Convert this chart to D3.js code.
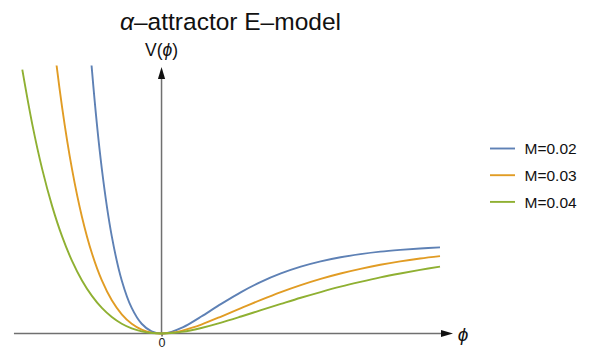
<!DOCTYPE html>
<html>
<head>
<meta charset="utf-8">
<script src="https://cdn.jsdelivr.net/npm/d3@7"></script>
<style>
  html, body { margin: 0; padding: 0; background: #fff; }
  svg { display: block; font-family: "Liberation Sans", Arial, sans-serif; }
</style>
</head>
<body>
<svg id="chart" width="601" height="349"></svg>
<script>
// ---- data ----
const title = "attractor E";
const seriesNames = ["M=0.02", "M=0.03", "M=0.04"];
const colors = ["#5E81B5", "#E19C24", "#8FB032"];
const xTickValues = [0];

const phiBlue   = [-4, -3.5, -3, -2.5, -2, -1.5, -1, -0.5, 0, 0.5, 1, 1.5, 2, 3, 4, 5, 6, 7, 8, 9, 10, 11, 12, 13, 14];
const vBlue     = [4.561, 2.953, 1.840, 1.087, 0.594, 0.286, 0.109, 0.024, 0, 0.018, 0.062, 0.122, 0.190, 0.331, 0.464, 0.578, 0.672, 0.748, 0.807, 0.853, 0.888, 0.916, 0.936, 0.952, 0.964];

const phiOrange = [-6, -5.5, -5, -4.5, -4, -3.5, -3, -2.5, -2, -1.5, -1, -0.5, 0, 0.5, 1, 1.5, 2, 3, 4, 5, 6, 7, 8, 9, 10, 11, 12, 13, 14];
const vOrange   = [4.561, 3.426, 2.535, 1.840, 1.305, 0.898, 0.594, 0.372, 0.215, 0.109, 0.044, 0.010, 0, 0.008, 0.030, 0.062, 0.100, 0.190, 0.284, 0.377, 0.464, 0.542, 0.612, 0.672, 0.724, 0.769, 0.807, 0.839, 0.866];

const phiGreen  = [-7, -6.5, -6, -5.5, -5, -4.5, -4, -3.5, -3, -2.5, -2, -1.5, -1, -0.5, 0, 0.5, 1, 1.5, 2, 3, 4, 5, 6, 7, 8, 9, 10, 11, 12, 13, 14];
const vGreen    = [2.953, 2.344, 1.840, 1.426, 1.087, 0.813, 0.594, 0.421, 0.286, 0.184, 0.109, 0.057, 0.024, 0.005, 0, 0.005, 0.018, 0.037, 0.062, 0.122, 0.190, 0.261, 0.331, 0.400, 0.464, 0.524, 0.578, 0.628, 0.672, 0.712, 0.748];

const series = [
  { name: seriesNames[0], color: colors[0], pts: phiBlue.map((p, i) => [p, vBlue[i]]) },
  { name: seriesNames[1], color: colors[1], pts: phiOrange.map((p, i) => [p, vOrange[i]]) },
  { name: seriesNames[2], color: colors[2], pts: phiGreen.map((p, i) => [p, vGreen[i]]) }
];

// ---- scales ----
const x = d3.scaleLinear().domain([-7, 14]).range([22.3, 440]);
const y = d3.scaleLinear().domain([0, 3]).range([333.5, 65.5]);

const svg = d3.select("#chart");
const axisColor = "#707070";

svg.append("defs").append("clipPath").attr("id", "plotclip")
  .append("rect").attr("x", 0).attr("y", y(3)).attr("width", 601).attr("height", 349 - y(3));

// ---- axes ----
const xAxisG = svg.append("g").attr("transform", `translate(0,${y(0)})`)
  .call(d3.axisBottom(x).tickValues(xTickValues).tickSize(3).tickFormat(d3.format("d")));
xAxisG.select(".domain").remove();
xAxisG.selectAll(".tick line").attr("stroke", "#333").attr("stroke-width", 1.2);
xAxisG.selectAll(".tick text").attr("font-size", 12.5).attr("fill", "#222")
  .attr("font-family", "Liberation Sans, Arial, sans-serif").attr("y", 5).attr("dy", "0.71em");

svg.append("line")
  .attr("x1", x(-7.42)).attr("x2", x(14.0) + 2)
  .attr("y1", y(0)).attr("y2", y(0))
  .attr("stroke", axisColor).attr("stroke-width", 1.5);
// x arrow
const xa = x(14.0) + 2;
svg.append("path")
  .attr("d", `M${xa - 1},${y(0) - 3.6} L${xa + 11},${y(0)} L${xa - 1},${y(0) + 3.6} Z`)
  .attr("fill", "#111");

svg.append("line")
  .attr("x1", x(0)).attr("x2", x(0))
  .attr("y1", y(0)).attr("y2", 78)
  .attr("stroke", axisColor).attr("stroke-width", 1.5);
svg.append("path")
  .attr("d", `M${x(0) - 3.6},${79} L${x(0)},${67} L${x(0) + 3.6},${79} Z`)
  .attr("fill", "#111");

// ---- curves ----
const line = d3.line().x(d => x(d[0])).y(d => y(d[1])).curve(d3.curveCatmullRom.alpha(0.5));
const plot = svg.append("g").attr("clip-path", "url(#plotclip)");
plot.selectAll("path.series").data(series).enter().append("path")
  .attr("class", "series")
  .attr("d", d => line(d.pts))
  .attr("fill", "none")
  .attr("stroke", d => d.color)
  .attr("stroke-width", 1.9);

// ---- labels ----
const t = svg.append("text").attr("x", 230.5).attr("y", 30).attr("text-anchor", "middle")
  .attr("font-size", 24.5).attr("fill", "#111");
t.append("tspan").attr("font-style", "italic").text("α");
t.append("tspan").text("–" + title + "–model");

const vl = svg.append("text").attr("x", x(0)).attr("y", 56).attr("text-anchor", "middle")
  .attr("font-size", 17.5).attr("fill", "#111");
vl.append("tspan").text("V(");
vl.append("tspan").attr("font-style", "italic").text("ϕ");
vl.append("tspan").text(")");

svg.append("text").attr("x", 463).attr("y", 341).attr("text-anchor", "middle")
  .attr("font-size", 19).attr("font-style", "italic").attr("fill", "#111").text("ϕ");

// ---- legend ----
const lg = svg.append("g");
const rows = lg.selectAll("g").data(series).enter().append("g")
  .attr("transform", (d, i) => `translate(490,${148.5 + i * 26.7})`);
rows.append("line").attr("x1", 0).attr("x2", 25).attr("y1", 0).attr("y2", 0)
  .attr("stroke", d => d.color).attr("stroke-width", 1.9);
rows.append("text").attr("x", 34.5).attr("y", 5.6).attr("font-size", 15.5).attr("fill", "#111")
  .text(d => d.name);
</script>
</body>
</html>
